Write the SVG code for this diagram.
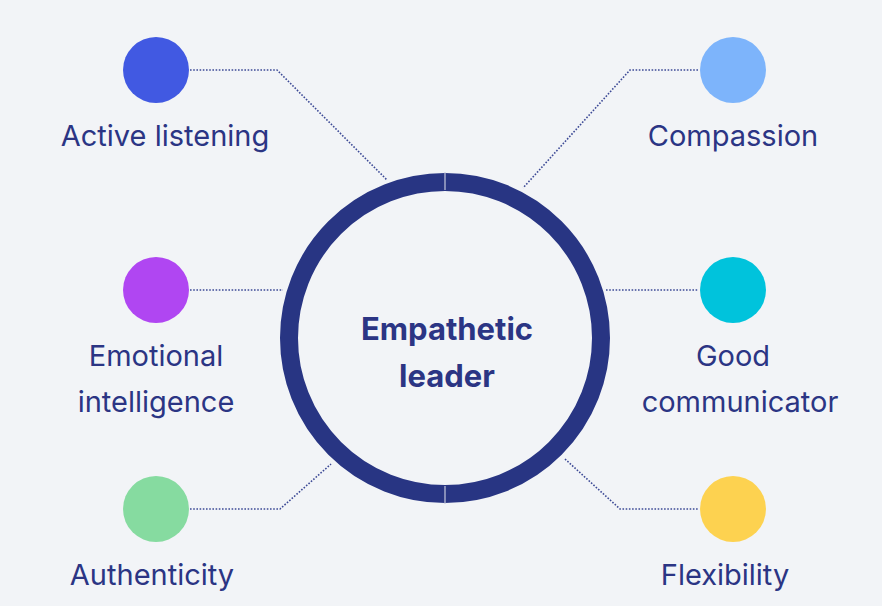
<svg xmlns="http://www.w3.org/2000/svg" width="882" height="606" viewBox="0 0 882 606">
<style>
.lbl{font-family:Inter,"Liberation Sans",sans-serif;font-size:29px;fill:#2b3584;text-anchor:middle}
.c{fill:none;stroke:#3d4a96;stroke-width:1.6;stroke-dasharray:1.6 1.6}
</style>
<rect width="882" height="606" fill="#f2f4f7"/>
<g id="connectors">
<polyline class="c" points="190,70 277,70 387,180"/>
<polyline class="c" points="698,70 630,70 523,188"/>
<polyline class="c" points="190,290 283,290"/>
<polyline class="c" points="606,290 698,290"/>
<polyline class="c" points="190,509 280,509 331,464"/>
<polyline class="c" points="565,459 620,509 698,509"/>
</g>
<g id="center">
<circle cx="445" cy="338" r="156" fill="none" stroke="#283583" stroke-width="18"/>
<line x1="445" y1="172" x2="445" y2="190" stroke="#c5c9dc" stroke-width="1.2"/>
<line x1="445" y1="486" x2="445" y2="504" stroke="#c5c9dc" stroke-width="1.2"/>
<text class="lbl" x="447" y="340" style="font-weight:700;font-size:31px">Empathetic</text>
<text class="lbl" x="447" y="387" style="font-weight:700;font-size:31px">leader</text>
</g>
<g id="active"><circle cx="156" cy="70" r="33" fill="#4159e2"/><text class="lbl" x="165" y="146">Active listening</text></g>
<g id="compassion"><circle cx="733" cy="70" r="33" fill="#7db4fb"/><text class="lbl" x="733" y="146">Compassion</text></g>
<g id="emotional"><circle cx="156" cy="290" r="33" fill="#b046f2"/><text class="lbl" x="156" y="366">Emotional</text><text class="lbl" x="156" y="412">intelligence</text></g>
<g id="good"><circle cx="733" cy="290" r="33" fill="#00c3dc"/><text class="lbl" x="733" y="366">Good</text><text class="lbl" x="740" y="412">communicator</text></g>
<g id="authenticity"><circle cx="156" cy="509" r="33" fill="#86dba0"/><text class="lbl" x="152" y="585">Authenticity</text></g>
<g id="flexibility"><circle cx="733" cy="509" r="33" fill="#fdd250"/><text class="lbl" x="725" y="585">Flexibility</text></g>
</svg>
